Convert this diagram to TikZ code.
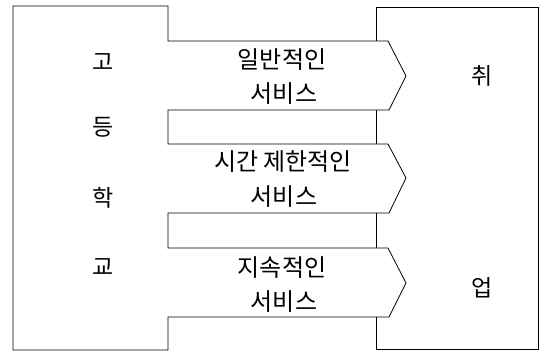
\documentclass[tikz,border=0pt]{standalone}
\usepackage{fontspec}
\newfontfamily\kr{Noto Sans CJK KR}
\begin{document}
\begin{tikzpicture}[x=1pt,y=-1pt,
  outline/.style={draw=black,line width=0.8pt,line join=miter},
  lbl/.style={font=\kr\fontsize{24}{34}\selectfont,inner sep=0pt,align=center},
  chr/.style={font=\kr\fontsize{23}{26}\selectfont,inner sep=0pt}]
\useasboundingbox (0,0) rectangle (540,351);
% right box
\draw[outline] (376,7) rectangle (538,349);
% left shape with three arrow bands
\draw[outline,fill=white] (13,6) -- (168,6) -- (168,41) -- (388,41) -- (406,76) -- (389,110)
  -- (168,110) -- (168,144) -- (388,144) -- (406,178) -- (389,213)
  -- (168,213) -- (168,248) -- (388,248) -- (406,283) -- (389,317)
  -- (168,317) -- (168,350) -- (13,350) -- cycle;
% left column characters
\node[chr] (g1) at (103,62) {고};
\node[chr] (g2) at (103,127) {등};
\node[chr] (g3) at (103,198) {학};
\node[chr] (g4) at (103,267) {교};
% band labels
\node[lbl] (b1a) at (282,60) {일반적인};
\node[lbl] (b1b) at (284,94) {서비스};
\node[lbl] (b2a) at (283,162) {시간 제한적인};
\node[lbl] (b2b) at (284,197) {서비스};
\node[lbl] (b3a) at (282,268) {지속적인};
\node[lbl] (b3b) at (284,302) {서비스};
% right column characters
\node[chr] (j1) at (482,76) {취};
\node[chr] (j2) at (482,288) {업};
\end{tikzpicture}
\end{document}
